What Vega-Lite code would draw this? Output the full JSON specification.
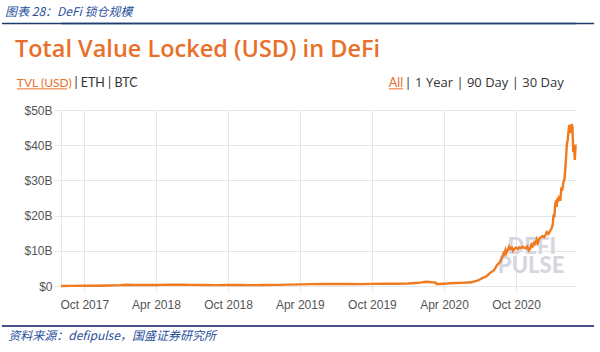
{
  "$schema": "https://vega.github.io/schema/vega-lite/v6.json",
  "width": 515,
  "height": 176,
  "autosize": {"type": "none"},
  "padding": {"left": 61, "top": 110, "right": 24, "bottom": 66},
  "background": "white",
  "config": {"view": {"stroke": null}},
  "resolve": {"axis": {"x": "independent", "y": "independent"}},
  "datasets": {
    "tvl": [
      {"date": "2017-08-03", "v": 0.02},
      {"date": "2017-09-01", "v": 0.03},
      {"date": "2017-10-01", "v": 0.05},
      {"date": "2017-11-01", "v": 0.08},
      {"date": "2017-12-01", "v": 0.15},
      {"date": "2018-01-01", "v": 0.25},
      {"date": "2018-01-15", "v": 0.35},
      {"date": "2018-02-01", "v": 0.28},
      {"date": "2018-03-01", "v": 0.30},
      {"date": "2018-04-01", "v": 0.27},
      {"date": "2018-05-01", "v": 0.40},
      {"date": "2018-06-01", "v": 0.35},
      {"date": "2018-07-01", "v": 0.33},
      {"date": "2018-08-01", "v": 0.30},
      {"date": "2018-09-01", "v": 0.25},
      {"date": "2018-10-01", "v": 0.28},
      {"date": "2018-11-01", "v": 0.27},
      {"date": "2018-12-01", "v": 0.25},
      {"date": "2019-01-01", "v": 0.30},
      {"date": "2019-02-01", "v": 0.32},
      {"date": "2019-03-01", "v": 0.38},
      {"date": "2019-04-01", "v": 0.45},
      {"date": "2019-05-01", "v": 0.52},
      {"date": "2019-06-01", "v": 0.60},
      {"date": "2019-07-01", "v": 0.58},
      {"date": "2019-08-01", "v": 0.55},
      {"date": "2019-09-01", "v": 0.52},
      {"date": "2019-10-01", "v": 0.60},
      {"date": "2019-11-01", "v": 0.68},
      {"date": "2019-12-01", "v": 0.66},
      {"date": "2020-01-01", "v": 0.70},
      {"date": "2020-01-20", "v": 0.85},
      {"date": "2020-02-01", "v": 0.95},
      {"date": "2020-02-15", "v": 1.20},
      {"date": "2020-03-01", "v": 1.05},
      {"date": "2020-03-10", "v": 1.00},
      {"date": "2020-03-13", "v": 0.55},
      {"date": "2020-03-20", "v": 0.55},
      {"date": "2020-04-01", "v": 0.62},
      {"date": "2020-04-15", "v": 0.80},
      {"date": "2020-05-01", "v": 0.85},
      {"date": "2020-05-15", "v": 0.90},
      {"date": "2020-06-01", "v": 1.00},
      {"date": "2020-06-10", "v": 1.05},
      {"date": "2020-06-15", "v": 1.25},
      {"date": "2020-06-25", "v": 1.55},
      {"date": "2020-07-01", "v": 1.85},
      {"date": "2020-07-08", "v": 2.3},
      {"date": "2020-07-15", "v": 2.6},
      {"date": "2020-07-22", "v": 3.2},
      {"date": "2020-07-28", "v": 3.8},
      {"date": "2020-08-01", "v": 4.1},
      {"date": "2020-08-06", "v": 4.5},
      {"date": "2020-08-10", "v": 5.2},
      {"date": "2020-08-14", "v": 6.0},
      {"date": "2020-08-18", "v": 6.4},
      {"date": "2020-08-22", "v": 7.0},
      {"date": "2020-08-26", "v": 7.9},
      {"date": "2020-08-30", "v": 9.3},
      {"date": "2020-09-01", "v": 9.0},
      {"date": "2020-09-04", "v": 10.2},
      {"date": "2020-09-06", "v": 9.3},
      {"date": "2020-09-09", "v": 10.0},
      {"date": "2020-09-13", "v": 11.2},
      {"date": "2020-09-16", "v": 10.6},
      {"date": "2020-09-20", "v": 10.9},
      {"date": "2020-09-23", "v": 10.0},
      {"date": "2020-09-27", "v": 10.6},
      {"date": "2020-10-01", "v": 10.9},
      {"date": "2020-10-05", "v": 10.5},
      {"date": "2020-10-09", "v": 11.0},
      {"date": "2020-10-13", "v": 10.8},
      {"date": "2020-10-17", "v": 11.1},
      {"date": "2020-10-21", "v": 10.9},
      {"date": "2020-10-25", "v": 10.7},
      {"date": "2020-10-29", "v": 11.2},
      {"date": "2020-11-02", "v": 10.1},
      {"date": "2020-11-05", "v": 10.5},
      {"date": "2020-11-09", "v": 11.8},
      {"date": "2020-11-12", "v": 11.3},
      {"date": "2020-11-16", "v": 12.4},
      {"date": "2020-11-19", "v": 12.0},
      {"date": "2020-11-22", "v": 13.2},
      {"date": "2020-11-25", "v": 12.2},
      {"date": "2020-11-29", "v": 13.5},
      {"date": "2020-12-03", "v": 13.8},
      {"date": "2020-12-07", "v": 14.2},
      {"date": "2020-12-11", "v": 13.9},
      {"date": "2020-12-15", "v": 14.6},
      {"date": "2020-12-18", "v": 15.3},
      {"date": "2020-12-22", "v": 14.8},
      {"date": "2020-12-26", "v": 15.6},
      {"date": "2020-12-30", "v": 16.4},
      {"date": "2021-01-02", "v": 17.5},
      {"date": "2021-01-04", "v": 20.3},
      {"date": "2021-01-06", "v": 19.5},
      {"date": "2021-01-08", "v": 22.8},
      {"date": "2021-01-10", "v": 24.3},
      {"date": "2021-01-12", "v": 22.5},
      {"date": "2021-01-14", "v": 25.0},
      {"date": "2021-01-16", "v": 24.0},
      {"date": "2021-01-18", "v": 25.6},
      {"date": "2021-01-21", "v": 24.2},
      {"date": "2021-01-24", "v": 28.0},
      {"date": "2021-01-26", "v": 27.0},
      {"date": "2021-01-29", "v": 29.5},
      {"date": "2021-02-01", "v": 30.5},
      {"date": "2021-02-03", "v": 33.5},
      {"date": "2021-02-05", "v": 37.0},
      {"date": "2021-02-07", "v": 40.5},
      {"date": "2021-02-09", "v": 41.5},
      {"date": "2021-02-11", "v": 44.0},
      {"date": "2021-02-13", "v": 45.8},
      {"date": "2021-02-15", "v": 43.5},
      {"date": "2021-02-17", "v": 44.5},
      {"date": "2021-02-19", "v": 46.0},
      {"date": "2021-02-21", "v": 45.2},
      {"date": "2021-02-23", "v": 38.0},
      {"date": "2021-02-25", "v": 40.0},
      {"date": "2021-02-27", "v": 35.8},
      {"date": "2021-03-01", "v": 40.2}
    ]
  },
  "layer": [
    {
      "data": {"values": [{"t": "DEFI"}]},
      "mark": {"type": "text", "font": "Lato", "fontSize": 22, "fontWeight": 900, "color": "#D6D6E0", "align": "center", "baseline": "middle"},
      "encoding": {
        "x": {"datum": {"year": 2020, "month": 11, "date": 10, "utc": true}, "type": "temporal", "axis": null},
        "y": {"datum": 11.08, "type": "quantitative", "axis": null},
        "text": {"field": "t"}
      }
    },
    {
      "data": {"values": [{"t": "PULSE"}]},
      "mark": {"type": "text", "font": "Lato", "fontSize": 22, "fontWeight": 900, "color": "#D6D6E0", "align": "center", "baseline": "middle"},
      "encoding": {
        "x": {"datum": {"year": 2020, "month": 11, "date": 8, "utc": true}, "type": "temporal", "axis": null},
        "y": {"datum": 5.68, "type": "quantitative", "axis": null},
        "text": {"field": "t"}
      }
    },
    {
      "data": {"name": "tvl"},
      "mark": {"type": "line", "color": "#F07A1E", "strokeWidth": 2.4, "interpolate": "linear"},
      "encoding": {
        "x": {
          "field": "date",
          "type": "temporal",
          "scale": {"type": "utc", "domain": [{"year": 2017, "month": 8, "date": 3, "utc": true}, {"year": 2021, "month": 3, "date": 2, "utc": true}]},
          "axis": {
            "title": null,
            "values": [
              {"year": 2017, "month": 10, "date": 1, "utc": true},
              {"year": 2018, "month": 4, "date": 1, "utc": true},
              {"year": 2018, "month": 10, "date": 1, "utc": true},
              {"year": 2019, "month": 4, "date": 1, "utc": true},
              {"year": 2019, "month": 10, "date": 1, "utc": true},
              {"year": 2020, "month": 4, "date": 1, "utc": true},
              {"year": 2020, "month": 10, "date": 1, "utc": true}
            ],
            "format": "%b %Y",
            "grid": true,
            "gridColor": "#E6E6E6",
            "domainColor": "#E6E6E6",
            "tickColor": "#E6E6E6",
            "tickSize": 5,
            "labelPadding": 8,
            "labelFont": "Liberation Sans",
            "labelFontSize": 12,
            "labelColor": "#555555",
            "labelFlush": false
          }
        },
        "y": {
          "field": "v",
          "type": "quantitative",
          "scale": {"domain": [0, 50], "nice": false, "zero": true},
          "axis": {
            "title": null,
            "values": [0, 10, 20, 30, 40, 50],
            "labelExpr": "datum.value == 0 ? '$0' : '$' + datum.value + 'B'",
            "grid": true,
            "gridColor": "#E6E6E6",
            "domainColor": "#E6E6E6",
            "tickColor": "#E6E6E6",
            "tickSize": 7,
            "labelPadding": 2,
            "labelFont": "Liberation Sans",
            "labelFontSize": 12,
            "labelColor": "#555555"
          }
        }
      }
    },
    {
      "data": {"values": [{"t": "图表 28：DeFi 锁仓规模"}]},
      "mark": {"type": "text", "font": "Noto Sans CJK SC", "fontSize": 12, "fontStyle": "italic", "color": "#2A4F9C", "align": "left", "baseline": "middle"},
      "encoding": {
        "x": {"datum": {"year": 2017, "month": 3, "date": 14, "utc": true}, "type": "temporal", "axis": null},
        "y": {"datum": 77.84, "type": "quantitative", "axis": null},
        "text": {"field": "t"}
      }
    },
    {
      "data": {"values": [{"t": "Total Value Locked (USD) in DeFi"}]},
      "mark": {"type": "text", "font": "Open Sans", "fontSize": 23.5, "fontWeight": 600, "color": "#E8702A", "align": "left", "baseline": "alphabetic"},
      "encoding": {
        "x": {"datum": {"year": 2017, "month": 4, "date": 8, "utc": true}, "type": "temporal", "axis": null},
        "y": {"datum": 65.06, "type": "quantitative", "axis": null},
        "text": {"field": "t"}
      }
    },
    {
      "data": {"values": [{"t": "TVL (USD)"}]},
      "mark": {"type": "text", "font": "Lato", "fontSize": 12, "color": "#E8702A", "align": "left", "baseline": "middle"},
      "encoding": {
        "x": {"datum": {"year": 2017, "month": 4, "date": 13, "utc": true}, "type": "temporal", "axis": null},
        "y": {"datum": 57.67, "type": "quantitative", "axis": null},
        "text": {"field": "t"}
      }
    },
    {
      "data": {"values": [{"t": "tvl underline"}]},
      "mark": {"type": "rule", "color": "#E8702A", "strokeWidth": 1},
      "encoding": {
        "x": {"datum": {"year": 2017, "month": 4, "date": 13, "utc": true}, "type": "temporal", "axis": null},
        "x2": {"datum": {"year": 2017, "month": 8, "date": 18, "utc": true}},
        "y": {"datum": 56.0, "type": "quantitative", "axis": null}
      }
    },
    {
      "data": {"values": [{"t": "| ETH | BTC"}]},
      "mark": {"type": "text", "font": "Lato", "fontSize": 12.5, "color": "#333333", "align": "left", "baseline": "middle"},
      "encoding": {
        "x": {"datum": {"year": 2017, "month": 9, "date": 6, "utc": true}, "type": "temporal", "axis": null},
        "y": {"datum": 57.67, "type": "quantitative", "axis": null},
        "text": {"field": "t"}
      }
    },
    {
      "data": {"values": [{"t": "All"}]},
      "mark": {"type": "text", "font": "Lato", "fontSize": 12.5, "color": "#E8702A", "align": "left", "baseline": "middle"},
      "encoding": {
        "x": {"datum": {"year": 2019, "month": 11, "date": 13, "utc": true}, "type": "temporal", "axis": null},
        "y": {"datum": 57.67, "type": "quantitative", "axis": null},
        "text": {"field": "t"}
      }
    },
    {
      "data": {"values": [{"t": "all underline"}]},
      "mark": {"type": "rule", "color": "#E8702A", "strokeWidth": 1},
      "encoding": {
        "x": {"datum": {"year": 2019, "month": 11, "date": 13, "utc": true}, "type": "temporal", "axis": null},
        "x2": {"datum": {"year": 2019, "month": 12, "date": 19, "utc": true}},
        "y": {"datum": 56.0, "type": "quantitative", "axis": null}
      }
    },
    {
      "data": {"values": [{"t": "| 1 Year | 90 Day | 30 Day"}]},
      "mark": {"type": "text", "font": "Open Sans", "fontSize": 13, "color": "#333333", "align": "left", "baseline": "middle"},
      "encoding": {
        "x": {"datum": {"year": 2019, "month": 12, "date": 23, "utc": true}, "type": "temporal", "axis": null},
        "y": {"datum": 57.67, "type": "quantitative", "axis": null},
        "text": {"field": "t"}
      }
    },
    {
      "data": {"values": [{"t": "footer line"}]},
      "mark": {"type": "rule", "color": "#0E1560", "strokeWidth": 1.5},
      "encoding": {
        "x": {"datum": {"year": 2017, "month": 3, "date": 6, "utc": true}, "type": "temporal", "axis": null},
        "x2": {"datum": {"year": 2021, "month": 4, "date": 17, "utc": true}},
        "y": {"datum": -11.36, "type": "quantitative", "axis": null}
      }
    },
    {
      "data": {"values": [{"t": "header line"}]},
      "mark": {"type": "rule", "color": "#1F3D6E", "strokeWidth": 1.5},
      "encoding": {
        "x": {
          "datum": {"year": 2017, "month": 3, "date": 6, "utc": true},
          "type": "temporal",
          "axis": {"orient": "top", "offset": 87, "domain": true, "domainColor": "#1F3D6E", "domainWidth": 1.5, "ticks": false, "labels": false, "grid": false, "title": null}
        },
        "x2": {"datum": {"year": 2021, "month": 4, "date": 17, "utc": true}},
        "y": {"datum": 74.6, "type": "quantitative", "axis": null}
      }
    },
    {
      "data": {"values": [{"t": "资料来源：defipulse，国盛证券研究所"}]},
      "mark": {"type": "text", "font": "Noto Sans CJK SC", "fontSize": 12, "fontStyle": "italic", "color": "#2A4F9C", "align": "left", "baseline": "middle"},
      "encoding": {
        "x": {"datum": {"year": 2017, "month": 3, "date": 22, "utc": true}, "type": "temporal", "axis": null},
        "y": {"datum": -14.2, "type": "quantitative", "axis": null},
        "text": {"field": "t"}
      }
    }
  ]
}
